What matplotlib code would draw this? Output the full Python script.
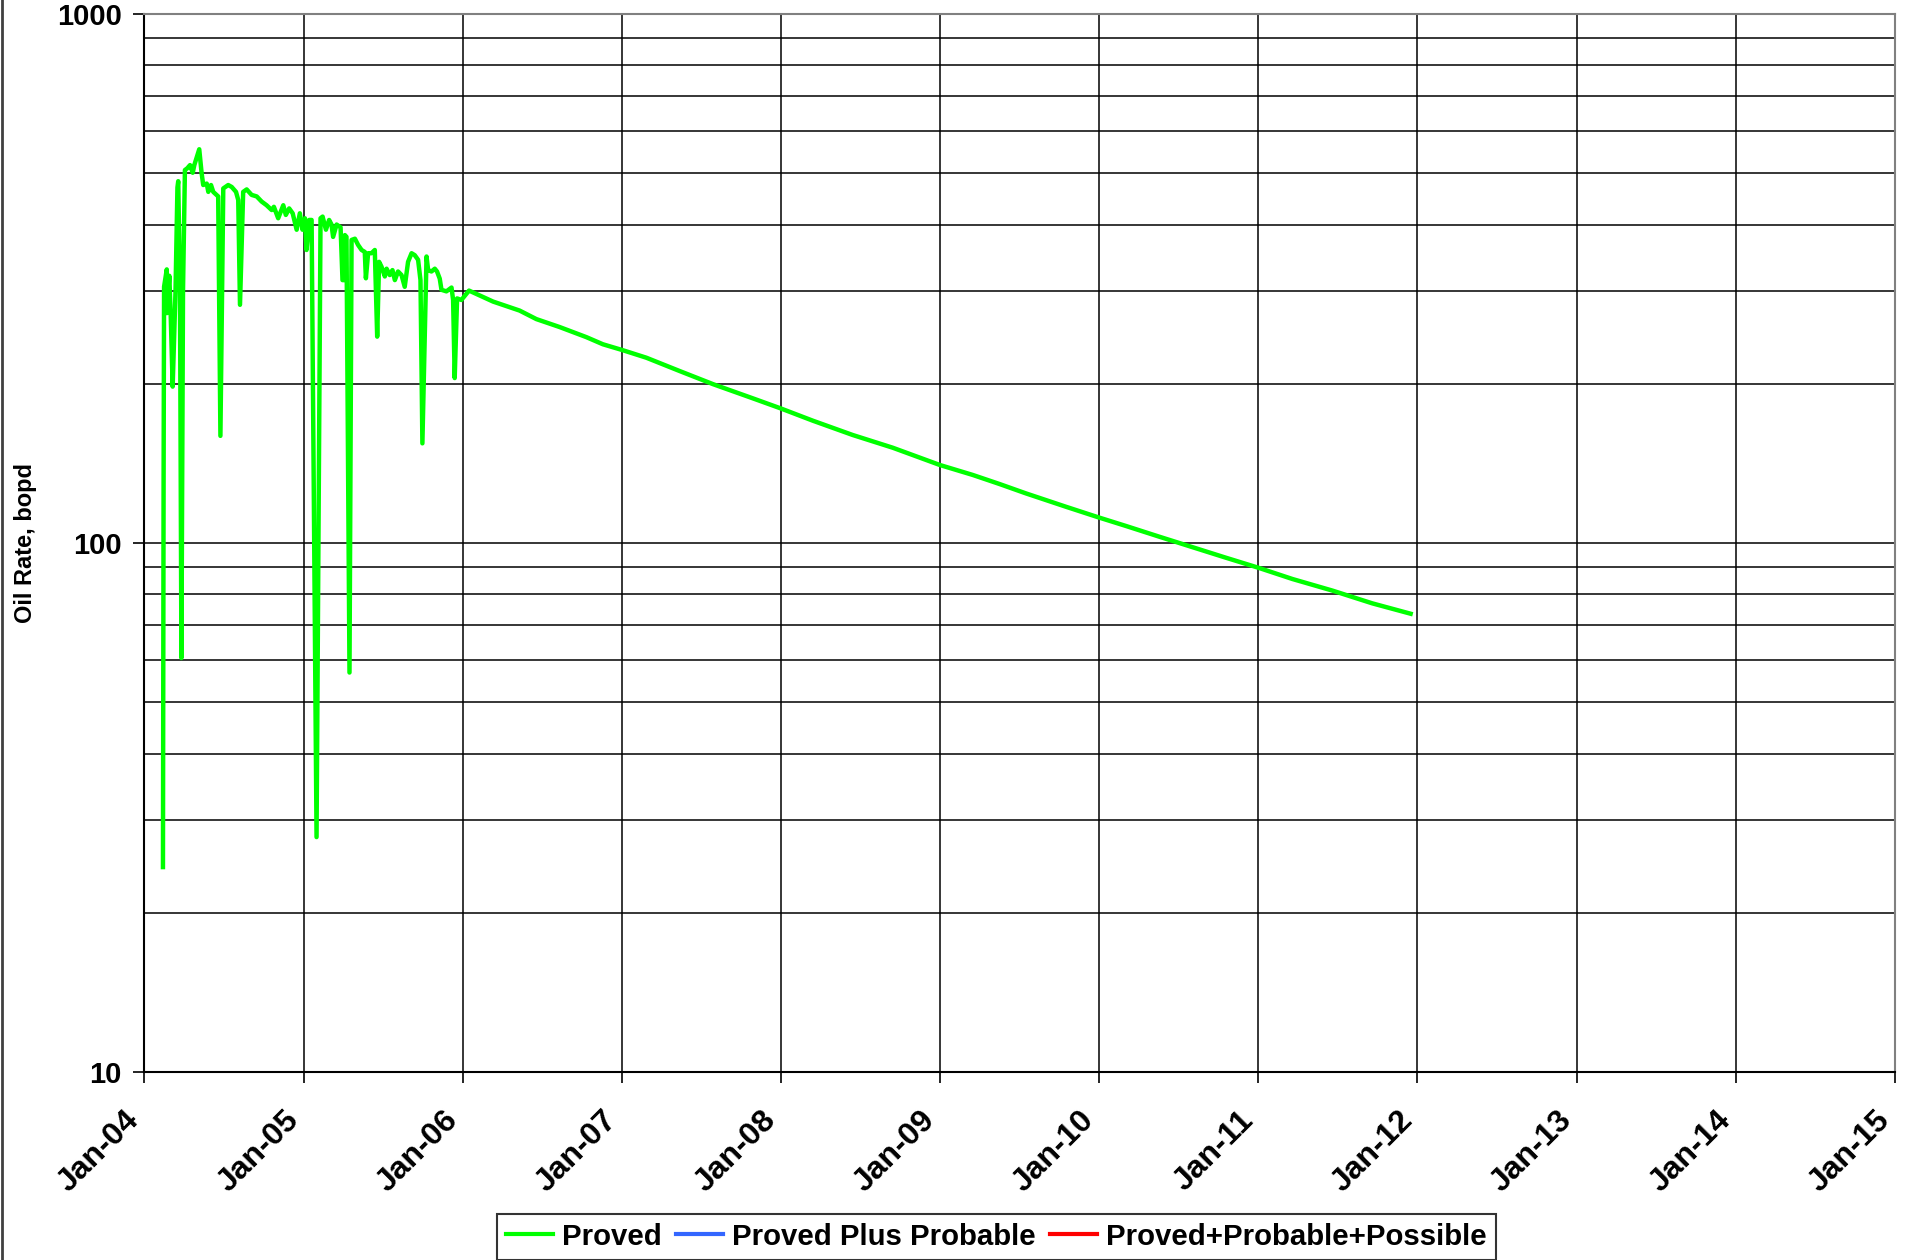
import matplotlib
matplotlib.use("Agg")
import matplotlib.pyplot as plt
import matplotlib.dates as mdates
import matplotlib.transforms as mtrans
from matplotlib.lines import Line2D
from matplotlib.ticker import LogLocator, FixedLocator, NullFormatter
import pandas as pd

plt.rcParams['font.family'] = ['Liberation Sans', 'DejaVu Sans']
plt.rcParams['font.weight'] = 'bold'

# Proved case: time in years after 1 Jan 2004, oil rate in bopd
# history (with shut-in dips) followed by the decline forecast
proved_years = [
    0.119, 0.123, 0.126, 0.143, 0.144, 0.159, 0.168, 0.180, 0.198, 0.210,
    0.215, 0.226, 0.235, 0.245, 0.257, 0.272, 0.289, 0.306, 0.316, 0.347,
    0.362, 0.372, 0.394, 0.404, 0.421, 0.435, 0.456, 0.466, 0.480, 0.498,
    0.529, 0.551, 0.578, 0.592, 0.603, 0.623, 0.645, 0.676, 0.708, 0.739,
    0.770, 0.802, 0.816, 0.843, 0.875, 0.891, 0.912, 0.934, 0.959, 0.979,
    0.996, 1.011, 1.021, 1.038, 1.053, 1.084, 1.109, 1.122, 1.143, 1.163,
    1.178, 1.188, 1.210, 1.235, 1.247, 1.257, 1.262, 1.272, 1.291, 1.304,
    1.325, 1.345, 1.367, 1.387, 1.394, 1.408, 1.429, 1.450, 1.465, 1.477,
    1.492, 1.513, 1.524, 1.544, 1.561, 1.576, 1.596, 1.618, 1.638, 1.659,
    1.681, 1.701, 1.722, 1.737, 1.749, 1.775, 1.785, 1.806, 1.827, 1.841,
    1.858, 1.869, 1.900, 1.932, 1.942, 1.952, 1.967, 1.994,
    2.042, 2.193, 2.360, 2.465, 2.611, 2.779, 2.883, 3.003, 3.156, 3.365,
    3.574, 3.825, 3.997, 4.202, 4.453, 4.704, 5.001, 5.206, 5.374, 5.541,
    5.792, 5.997, 6.169, 6.378, 6.546, 6.797, 7.001, 7.215, 7.466, 7.717,
    7.958,
]
proved_rate = [
    24.4, 130, 305, 329, 272, 320, 268, 197.5, 300, 470,
    483, 300, 60.6, 300, 507, 511, 518, 501, 518, 555,
    500, 475, 478, 461, 475, 461, 455, 452, 159.4, 468,
    475, 471, 461, 445, 282, 461, 466, 455, 452, 442,
    435, 426, 432, 411, 435, 417, 429, 420, 391, 420,
    391, 411, 358, 408, 408, 27.8, 411, 414, 391, 408,
    400, 379, 400, 395, 314, 314, 382, 379, 56.9, 374,
    376, 366, 358, 355, 316.5, 353, 353, 358, 245.5, 340,
    333, 319, 330, 321, 328, 314, 326, 321, 305, 340,
    353, 350, 343, 314, 154.3, 348, 328, 326, 330, 326,
    316, 301, 299, 304, 288, 205, 290, 288,
    300, 286, 275, 265, 256, 245, 237.5, 231.7, 224, 211.4,
    199.7, 187.7, 179.8, 170.3, 160, 151.4, 140.4, 134.5, 129.3, 124.1,
    117.1, 111.8, 107.7, 102.8, 99.1, 93.8, 89.8, 85.5, 81.3, 76.9,
    73.5,
]

legend_names = ['Proved', 'Proved Plus Probable', 'Proved+Probable+Possible']
legend_colors = ['#00FF00', '#3366FF', '#FF0000']
year_ticks = [str(y) for y in range(2004, 2016)]

start = pd.Timestamp('2004-01-01')
dates = [start + pd.Timedelta(days=t * 365.25) for t in proved_years]

fig = plt.figure(figsize=(19.1, 12.6), dpi=100)
ax = fig.add_axes([0.0754, 0.1492, 0.9167, 0.8397])

ax.plot(dates, proved_rate, color=legend_colors[0], lw=3.2,
        solid_joinstyle='round', zorder=3)

ax.set_yscale('log')
ax.set_ylim(10, 1000)
ax.set_xlim(pd.Timestamp('2004-01-01'), pd.Timestamp('2015-01-01'))

ticks = [pd.Timestamp(y + '-01-01') for y in year_ticks]
ax.xaxis.set_major_locator(FixedLocator(mdates.date2num(ticks)))
ax.xaxis.set_major_formatter(mdates.DateFormatter('%b-%y'))
ax.yaxis.set_major_locator(LogLocator(base=10))
ax.yaxis.set_minor_locator(LogLocator(base=10, subs=range(2, 10)))
ax.yaxis.set_minor_formatter(NullFormatter())
ax.yaxis.set_major_formatter(plt.FuncFormatter(lambda v, p: '%d' % v))

ax.grid(True, which='major', color='black', lw=1.1)
ax.grid(True, which='minor', axis='y', color='black', lw=1.1)
ax.set_axisbelow(True)

ax.tick_params(axis='y', which='major', direction='out', length=8,
               width=1.2, labelsize=21, pad=8)
ax.tick_params(axis='y', which='minor', length=0)
ax.tick_params(axis='x', direction='out', length=8, width=1.2,
               labelsize=23, pad=10)

# Excel puts the slanted dates a little left of and below each tick
shift = mtrans.ScaledTranslation(-0.2, -0.08, fig.dpi_scale_trans)
for lab in ax.get_xticklabels():
    lab.set_rotation(45)
    lab.set_ha('right')
    lab.set_va('top')
    lab.set_rotation_mode('anchor')
    lab.set_fontweight('bold')
    lab.set_transform(lab.get_transform() + shift)
for lab in ax.get_yticklabels():
    lab.set_fontweight('bold')

for s in ['left', 'bottom']:
    ax.spines[s].set_color('black')
    ax.spines[s].set_linewidth(1.5)
for s in ['top', 'right']:
    ax.spines[s].set_color('#808080')
    ax.spines[s].set_linewidth(1.5)

ax.set_ylabel('Oil Rate, bopd', fontsize=17, fontweight='bold')
ax.yaxis.set_label_coords(-0.061, 0.5)

handles = [Line2D([], [], color=c, lw=3) for c in legend_colors]
leg = fig.legend(handles, legend_names, loc='center',
                 bbox_to_anchor=(0.5216, 0.0185), ncol=3,
                 prop={'size': 21.2, 'weight': 'bold'},
                 frameon=True, fancybox=False, edgecolor='black',
                 handlelength=1.6, handletextpad=0.3, columnspacing=0.5,
                 borderpad=0.3)
leg.get_frame().set_linewidth(1.5)

# outer chart-area border on the left edge
fig.add_artist(Line2D([0.001, 0.001], [0, 1], transform=fig.transFigure,
                      color='#404040', lw=2))

fig.savefig('out.png', dpi=100, facecolor='white')
